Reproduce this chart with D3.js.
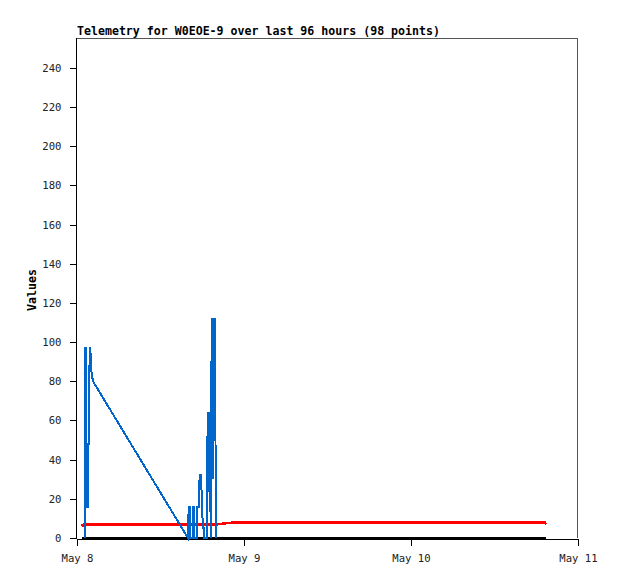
<!DOCTYPE html>
<html>
<head>
<meta charset="utf-8">
<script src="https://cdn.jsdelivr.net/npm/d3@7"></script>
<style>
  html, body { margin: 0; padding: 0; background: #fff; }
  svg { display: block; }
</style>
</head>
<body>
<svg id="chart" width="618" height="579"></svg>
<script>
// ---- data (hours after May 8 00:00) ----
const titleText = "Telemetry for W0EOE-9 over last 96 hours (98 points)";
const yLabel = "Values";
const xTickDays = ["2024-05-08", "2024-05-09", "2024-05-10", "2024-05-11"];
const yTicks = [0, 20, 40, 60, 80, 100, 120, 140, 160, 180, 200, 220, 240];

const blueHours = [1.12, 1.16, 1.30, 1.36, 1.54, 1.58, 1.70, 1.74, 1.86, 1.92, 2.00, 2.10, 2.30,
  15.95, 16.05, 16.18, 16.24, 16.62, 16.66, 16.78, 16.82,
  17.22, 17.27, 17.48, 17.53, 17.66, 17.76, 17.84, 17.96, 18.02, 18.10, 18.20, 18.30,
  18.62, 18.68, 18.80, 18.92, 18.98, 19.16, 19.22, 19.36, 19.46, 19.56, 19.62, 19.78, 19.84, 19.90, 19.94];
const blueValues = [0, 97, 97, 16, 16, 48, 48, 80, 97, 97, 88, 84, 80,
  0, 16, 16, 0, 0, 16, 16, 0,
  0, 16, 16, 26, 32, 32, 28, 20, 12, 5, 5, 0,
  0, 32, 64, 64, 24, 24, 0, 112, 112, 30, 112, 112, 56, 56, 0];

const redHours = [0.72, 0.86, 1.00, 19.60, 19.90, 20.40, 21.30, 22.70, 67.20, 67.40];
const redValues = [7.2, 6.3, 6.9, 6.9, 6.7, 7.1, 7.5, 8.0, 8.0, 7.0];

const blackHours = [0.72, 67.40];
const blackValues = [0, 0];

// ---- layout ----
const pL = 77, pR = 578, pT = 38, pB = 538;
const svg = d3.select("#chart");
svg.append("rect").attr("width", 618).attr("height", 579).attr("fill", "#fff");

const parseDay = d3.utcParse("%Y-%m-%d");
const t0 = parseDay(xTickDays[0]);
const toDate = h => new Date(t0.getTime() + h * 3600e3);
const xTickDates = xTickDays.map(parseDay);

const x = d3.scaleUtc().domain([xTickDates[0], xTickDates[xTickDates.length - 1]]).range([pL, pR]);
const y = d3.scaleLinear().domain([0, 255.3]).range([pB, pT]);

// frame (top & right)
svg.append("path")
  .attr("d", `M${pL},${pT + 0.5}H${pR - 0.5}V${pB}`)
  .attr("fill", "none").attr("stroke", "#555").attr("stroke-width", 1)
  .attr("shape-rendering", "crispEdges");

const mono = "'DejaVu Sans Mono', 'Liberation Mono', monospace";

// y axis
const yAxis = svg.append("g").attr("transform", `translate(${pL - 0.5},0)`)
  .call(d3.axisLeft(y).tickValues(yTicks).tickSize(7).tickPadding(8).tickSizeOuter(0));
yAxis.select(".domain").attr("d", `M0,${pT}V${pB}`);
yAxis.selectAll("line,path").attr("stroke", "#000").attr("shape-rendering", "crispEdges");
yAxis.selectAll("text").attr("font-family", mono).attr("font-size", "10.6px").attr("fill", "#222");

// x axis
const xAxis = svg.append("g").attr("transform", `translate(0,${pB + 0.5})`)
  .call(d3.axisBottom(x).tickValues(xTickDates).tickFormat(d3.utcFormat("%b %-d"))
    .tickSize(7).tickPadding(9).tickSizeOuter(0));
xAxis.selectAll("line,path").attr("stroke", "#000").attr("shape-rendering", "crispEdges");
xAxis.selectAll("text").attr("font-family", mono).attr("font-size", "10.6px").attr("fill", "#222");

// series
function drawSeries(hours, values, color, width) {
  const pts = hours.map((h, i) => [toDate(h), values[i]]);
  svg.append("path")
    .datum(pts)
    .attr("fill", "none")
    .attr("stroke", color)
    .attr("stroke-width", width)
    .attr("stroke-linejoin", "miter")
    .attr("shape-rendering", "crispEdges")
    .attr("d", d3.line().x(d => x(d[0])).y(d => y(d[1])));
}
drawSeries(blackHours, blackValues, "#000", 2.5);
drawSeries(redHours, redValues, "#ff0000", 2.5);
drawSeries(blueHours, blueValues, "#0066cc", 2);

// title
svg.append("text").attr("x", pL).attr("y", 35)
  .attr("font-family", mono).attr("font-weight", "bold").attr("font-size", "11.6px")
  .attr("fill", "#000").text(titleText);

// y label
svg.append("text")
  .attr("transform", `translate(36,${(pT + pB) / 2 + 2}) rotate(-90)`)
  .attr("text-anchor", "middle")
  .attr("font-family", mono).attr("font-weight", "bold").attr("font-size", "11.6px")
  .attr("fill", "#000").text(yLabel);
</script>
</body>
</html>
